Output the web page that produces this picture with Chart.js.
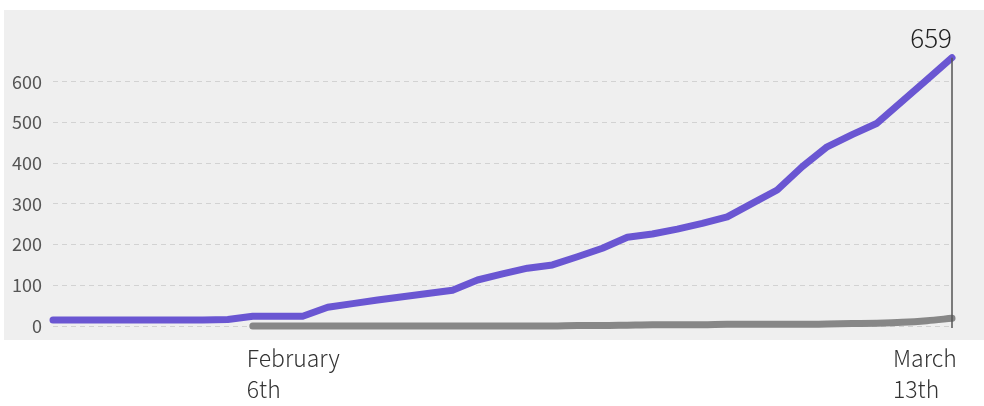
<!DOCTYPE html>
<html>
<head>
<meta charset="utf-8">
<script src="https://cdn.jsdelivr.net/npm/chart.js@4/dist/chart.umd.min.js"></script>
<style>
	body { margin: 0; background: #fff; }
	canvas { display: block; }
</style>
</head>
<body>
<canvas id="cases-chart" width="984" height="406"></canvas>
<script>
// one point per reported day in the source chart
const categories = [
	"", "", "", "", "", "", "", "", "Feb 6", "", "", "", "", "", "", "", "", "", "",
	"", "", "", "", "", "", "", "", "", "", "", "", "", "", "", "", "", "Mar 13",
];

const cases = [
	15, 15, 15, 15, 15, 15, 15, 16, 24, 24, 24, 46, 55, 64, 72, 80, 88, 113, 128,
	142, 150, 170, 191, 218, 226, 238, 252, 268, 301, 334, 391, 440, 470, 498, 552,
	605, 659,
];

const deaths = [
	null, null, null, null, null, null, null, null, 0, 0, 0, 0, 0, 0, 0, 0, 0, 0, 0,
	0, 0, 1, 1, 2, 3, 3, 3, 4, 4, 4, 4, 5, 6, 7, 9, 13, 19,
];

const yTicks = [0, 100, 200, 300, 400, 500, 600];
const xTickIndex = [8, 36];
const xTickLabels = [["February", "6th"], ["March", "13th"]];

const FONT = "'Noto Sans CJK JP', 'Noto Sans', sans-serif";

const panelBg = {
	id: "panelBg",
	beforeDraw(chart) {
		const c = chart.ctx;
		c.save();
		c.fillStyle = "#efefef";
		c.fillRect(4, 10, 980, 330);
		c.restore();
	},
};

const lastValueMarker = {
	id: "lastValueMarker",
	afterDatasetsDraw(chart) {
		const c = chart.ctx;
		const meta = chart.getDatasetMeta(1);
		const pt = meta.data[meta.data.length - 1];
		c.save();
		c.strokeStyle = "#555";
		c.lineWidth = 1.5;
		c.beginPath();
		c.moveTo(pt.x, pt.y);
		c.lineTo(pt.x, chart.chartArea.bottom + 2);
		c.stroke();
		c.fillStyle = "#222";
		c.font = "300 26px " + FONT;
		c.textAlign = "right";
		c.textBaseline = "alphabetic";
		c.fillText(String(cases[cases.length - 1]), pt.x, pt.y - 10);
		c.restore();
	},
};

const dateLabels = {
	id: "dateLabels",
	afterDraw(chart) {
		const c = chart.ctx;
		const xs = chart.scales.x;
		const shift = [-6, -59];
		c.save();
		c.fillStyle = "#333";
		c.font = "300 23px " + FONT;
		c.textAlign = "left";
		c.textBaseline = "alphabetic";
		xTickIndex.forEach((idx, i) => {
			const x = xs.getPixelForValue(idx) + shift[i];
			xTickLabels[i].forEach((line, j) => {
				c.fillText(line, x, 367 + j * 31);
			});
		});
		c.restore();
	},
};

const ctx = document.getElementById("cases-chart");

const chart = new Chart(ctx, {
	type: "line",
	data: {
		labels: categories,
		datasets: [
			{
				label: "deaths",
				data: deaths,
				borderColor: "#878787",
				borderWidth: 7,
				borderCapStyle: "round",
				borderJoinStyle: "round",
				tension: 0.4,
				cubicInterpolationMode: "monotone",
				pointRadius: 0,
				spanGaps: false,
				clip: false,
			},
			{
				label: "cases",
				data: cases,
				borderColor: "#6a56d2",
				borderWidth: 7,
				borderCapStyle: "round",
				borderJoinStyle: "round",
				tension: 0,
				pointRadius: 0,
				clip: false,
			},
		],
	},
	options: {
		responsive: false,
		animation: false,
		layout: {
			padding: { left: 0, right: 32, top: 41, bottom: 80 },
		},
		plugins: {
			legend: { display: false },
			tooltip: { enabled: false },
		},
		scales: {
			x: { display: false },
			y: {
				min: 0,
				max: 700,
				afterFit: (scale) => {
					scale.width = 53;
				},
				afterBuildTicks: (scale) => {
					scale.ticks = yTicks.map((v) => ({ value: v }));
				},
				ticks: {
					padding: 11,
					color: "#555",
					font: { family: FONT, size: 18 },
				},
				grid: {
					color: "#d2d2d2",
					lineWidth: 1,
					drawTicks: false,
				},
				border: { display: false, dash: [5, 4] },
			},
		},
	},
	plugins: [panelBg, lastValueMarker, dateLabels],
});
</script>
</body>
</html>
